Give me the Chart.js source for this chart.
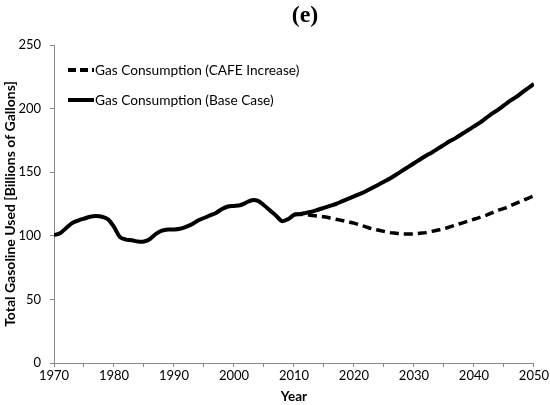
<!DOCTYPE html>
<html>
<head>
<meta charset="utf-8">
<script src="https://cdn.jsdelivr.net/npm/chart.js@4"></script>
<style>
html,body{margin:0;padding:0;background:#fff;}
#wrap{width:550px;height:405px;position:relative;}
</style>
</head>
<body>
<div id="wrap"><canvas id="c" width="550" height="405"></canvas></div>
<script>
const years = [1970,1971,1972,1973,1974,1975,1976,1977,1978,1979,1980,1981,1982,1983,1984,1985,1986,1987,1988,1989,1990,1991,1992,1993,1994,1995,1996,1997,1998,1999,2000,2001,2002,2003,2004,2005,2006,2007,2008,2009,2010,2011,2012,2013,2014,2015,2016,2017,2018,2019,2020,2021,2022,2023,2024,2025,2026,2027,2028,2029,2030,2031,2032,2033,2034,2035,2036,2037,2038,2039,2040,2041,2042,2043,2044,2045,2046,2047,2048,2049,2050];
const baseCase = [100.5,102,106,110,112,113.5,115,115.5,115,113,107,99,97,96.5,95.5,95.5,97.5,101.5,104,105,105,105.5,107,109,112,114,116,118,121,123,123.5,124,126,128,127.5,124,120,116,111.5,113,116.5,117,118,119,120.5,122,123.5,125,127,129,131,133,135,137.5,140,142.5,145,148,151,154,157,160,163,165.5,168.5,171.5,174.5,177,180,183,186,189,192.5,196,199,202.5,206,209,212.5,216,219.5];
const cafeIncrease = [null,null,null,null,null,null,null,null,null,null,null,null,null,null,null,null,null,null,null,null,null,null,null,null,null,null,null,null,null,null,null,null,null,null,null,null,null,null,null,null,117,117,116.5,116,115.5,115,114,113,112,111,110,108.5,107,105.5,104.5,103.5,102.5,102,101.5,101.5,101.5,102,102.5,103.5,104.5,105.5,107,108.5,110,111.5,113,114.5,116,118,120,121.5,123.5,125.5,127.5,129.5,131.5];
const seriesNames = ["Gas Consumption (CAFE Increase)", "Gas Consumption (Base Case)"];
const yTicks = [0,50,100,150,200,250];

const FONT = "Lato, 'Open Sans', sans-serif";

const decor = {
  id: 'decor',
  afterDraw(chart) {
    const ctx = chart.ctx;
    ctx.save();
    ctx.fillStyle = '#000';
    ctx.font = "bold 24px 'Liberation Serif', serif";
    ctx.textAlign = 'center';
    ctx.textBaseline = 'middle';
    ctx.fillText('(e)', 305, 16);
    ctx.font = "13.7px " + FONT;
    ctx.textAlign = 'left';
    const items = [
      {name: seriesNames[0], dash: [8,4], y: 70},
      {name: seriesNames[1], dash: [], y: 100}
    ];
    items.forEach(it => {
      ctx.beginPath();
      ctx.setLineDash(it.dash);
      ctx.lineWidth = 4;
      ctx.strokeStyle = '#000';
      ctx.moveTo(68, it.y);
      ctx.lineTo(94, it.y);
      ctx.stroke();
      ctx.setLineDash([]);
      ctx.fillText(it.name, 95, it.y + 1);
    });
    ctx.restore();
  }
};

new Chart(document.getElementById('c'), {
  type: 'line',
  data: {
    datasets: [
      {
        label: seriesNames[1],
        data: years.map((y,i) => ({x:y, y:baseCase[i]})),
        borderColor: '#000',
        borderWidth: 4,
        pointRadius: 0,
        tension: 0.3,
        fill: false
      },
      {
        label: seriesNames[0],
        data: years.map((y,i) => ({x:y, y:cafeIncrease[i]})),
        borderColor: '#000',
        borderWidth: 3.5,
        borderDash: [9,5],
        pointRadius: 0,
        tension: 0.3,
        fill: false,
        spanGaps: false
      }
    ]
  },
  options: {
    responsive: false,
    animation: false,
    layout: {padding: {left: 0, right: 13, top: 45, bottom: 0}},
    plugins: {legend: {display: false}, tooltip: {enabled: false}, title: {display: false}},
    scales: {
      x: {
        type: 'linear',
        min: 1970, max: 2050,
        afterBuildTicks(axis) {
          const t = [];
          for (let v = 1970; v <= 2050; v += 5) t.push({value: v});
          axis.ticks = t;
        },
        afterFit(axis) { axis.height = 42; },
        ticks: {
          autoSkip: false,
          maxRotation: 0,
          color: '#000',
          font: {family: FONT, size: 13},
          padding: 1,
          callback: v => (v % 10 === 0 ? String(v) : '')
        },
        grid: {drawOnChartArea: false, drawTicks: true, tickLength: 4, color: '#888', lineWidth: 1},
        border: {color: '#888', width: 1},
        title: {display: true, text: 'Year', color: '#000', font: {family: FONT, size: 13.5, weight: 'bold'}, padding: {top: 0, bottom: 0}}
      },
      y: {
        min: 0, max: 250,
        afterBuildTicks(axis) { axis.ticks = yTicks.map(v => ({value: v})); },
        afterFit(axis) { axis.width = 54; },
        ticks: {color: '#000', font: {family: FONT, size: 13}, padding: 9},
        grid: {drawOnChartArea: false, drawTicks: true, tickLength: 4, color: '#888', lineWidth: 1},
        border: {color: '#888', width: 1},
        title: {display: true, text: 'Total Gasoline Used [Billions of Gallons]', color: '#000', font: {family: FONT, size: 14, weight: 'bold'}, padding: {top: 2, bottom: 2}}
      }
    }
  },
  plugins: [decor]
});
</script>
</body>
</html>
